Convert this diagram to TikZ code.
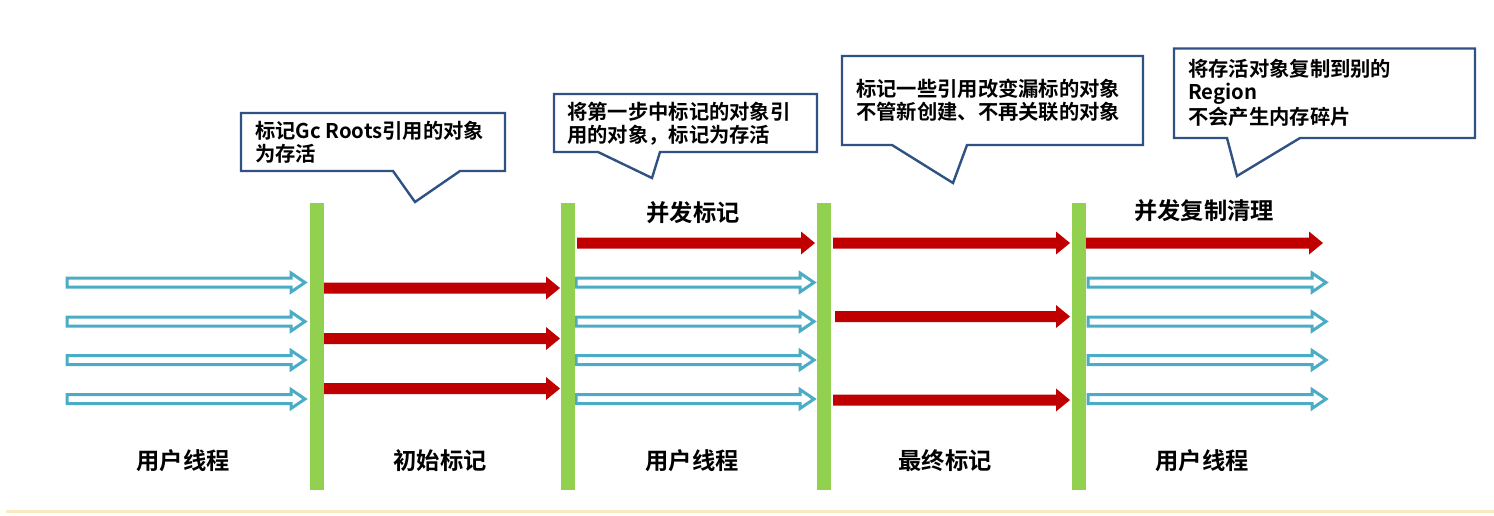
\documentclass[tikz,border=0pt]{standalone}
\usepackage{fontspec}
\setmainfont{Noto Sans CJK SC}[BoldFont={Noto Sans CJK SC Bold}]
\definecolor{barG}{HTML}{92D050}
\definecolor{arrB}{HTML}{4BACC6}
\definecolor{arrR}{HTML}{C00000}
\definecolor{callB}{HTML}{2F5283}
\definecolor{baseY}{HTML}{F8EBC2}
\tikzset{
  hollowarrow/.style={draw=arrB, line width=3pt, fill=white, line join=miter},
  redarrow/.style={fill=arrR, draw=none},
  greenbar/.style={fill=barG, draw=none},
  callout/.style={draw=callB, line width=2.4pt, fill=white, line join=miter},
  calltext/.style={anchor=base west, inner sep=0pt, font=\bfseries\fontsize{20.3}{23}\selectfont},
  label/.style={anchor=base, inner sep=0pt, font=\bfseries\fontsize{23.3}{26}\selectfont},
}
\newcommand\hollowarr[3]{% x1, x2(tip), y
  \draw[hollowarrow] (#1,#3-4.5) -- (#2-14,#3-4.5) -- (#2-14,#3-9.5) -- (#2,#3) -- (#2-14,#3+9.5) -- (#2-14,#3+4.5) -- (#1,#3+4.5) -- cycle;}
\newcommand\redarr[3]{% x1, x2(tip), y
  \fill[redarrow] (#1,#3-5.5) -- (#2-14,#3-5.5) -- (#2-14,#3-11.5) -- (#2,#3) -- (#2-14,#3+11.5) -- (#2-14,#3+5.5) -- (#1,#3+5.5) -- cycle;}
\begin{document}
\begin{tikzpicture}[x=1pt,y=-1pt]
\useasboundingbox (0,0) rectangle (1494,515);
% baseline strip
\draw[baseY, line width=3pt] (6,511) -- (1494,511);

% user-thread (hollow) arrows
\foreach \yy in {282.5,321.5,360,399}{
  \hollowarr{67}{305}{\yy}
  \hollowarr{576}{814}{\yy}
  \hollowarr{1088}{1326}{\yy}
}
% red arrows
\foreach \yy/\xs in {288/323,338.5/322,388.5/323}{\redarr{\xs}{560}{\yy}}
\redarr{577}{815}{243}
\foreach \yy/\xs in {243/833,316.5/835,400/833}{\redarr{\xs}{1070}{\yy}}
\redarr{1086}{1323}{243}

% green phase bars
\foreach \xx in {310,561,817,1072}{
  \fill[greenbar] (\xx,203) rectangle (\xx+13.5,490);
}

% callouts
\draw[callout] (241,113) -- (505,113) -- (505,171) -- (460,171) -- (415,202) -- (393,171) -- (241,171) -- cycle;
\node[calltext] (c1a) at (255,138) {标记Gc Roots引用的对象};
\node[calltext] (c1b) at (255,161.5) {为存活};

\draw[callout] (554,94) -- (817,94) -- (817,152) -- (660,152) -- (652,178) -- (598,152) -- (554,152) -- cycle;
\node[calltext] (c2a) at (567,119.3) {将第一步中标记的对象引};
\node[calltext] (c2b) at (567,142.6) {用的对象，标记为存活};

\draw[callout] (842,56) -- (1143,56) -- (1143,145) -- (967,145) -- (953,183) -- (892,145) -- (842,145) -- cycle;
\node[calltext] (c3a) at (856,96) {标记一些引用改变漏标的对象};
\node[calltext] (c3b) at (856,119.3) {不管新创建、不再关联的对象};

\draw[callout] (1174,48.5) -- (1475,48.5) -- (1475,138) -- (1300,138) -- (1237,176) -- (1227,138) -- (1174,138) -- cycle;
\node[calltext] (c4a) at (1188,76) {将存活对象复制到别的};
\node[calltext] (c4b) at (1188,99.5) {Region};
\node[calltext] (c4c) at (1188,124) {不会产生内存碎片};

% phase titles
\node[label] (t1) at (693,221.5) {并发标记};
\node[label] (t2) at (1204,219.5) {并发复制清理};

% bottom labels
\node[label] (l1) at (183,469.5) {用户线程};
\node[label] (l2) at (440,469.5) {初始标记};
\node[label] (l3) at (692,469.5) {用户线程};
\node[label] (l4) at (945,469.5) {最终标记};
\node[label] (l5) at (1202,469.5) {用户线程};
\end{tikzpicture}
\end{document}
